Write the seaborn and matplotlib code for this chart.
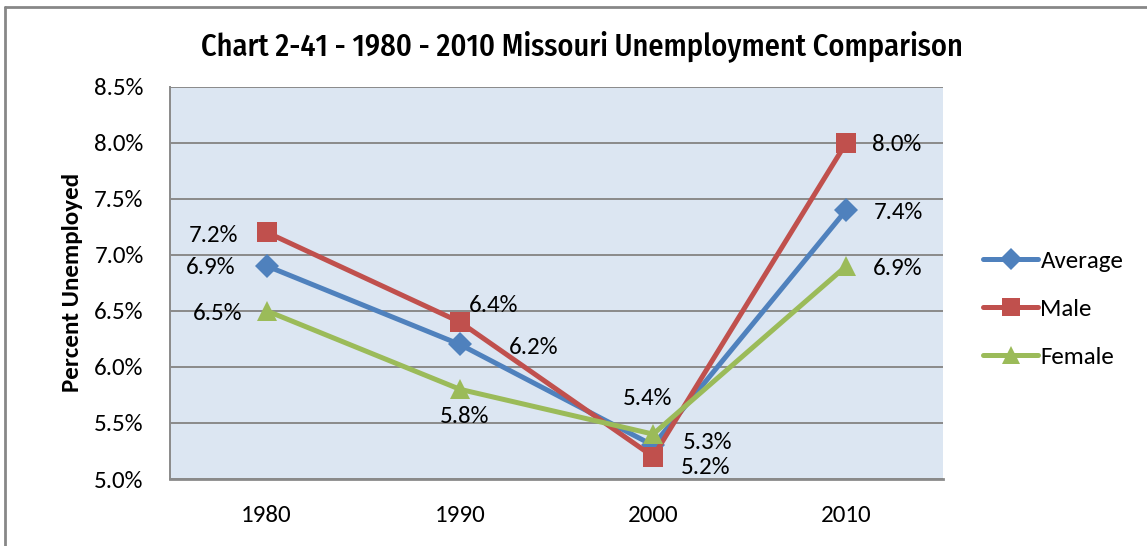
import matplotlib
matplotlib.use("Agg")
import matplotlib.pyplot as plt
import seaborn as sns
import pandas as pd
from matplotlib.lines import Line2D

years = ["1980", "1990", "2000", "2010"]
average = [6.9, 6.2, 5.3, 7.4]
male = [7.2, 6.4, 5.2, 8.0]
female = [6.5, 5.8, 5.4, 6.9]
series_names = ["Average", "Male", "Female"]
y_ticks = [5.0, 5.5, 6.0, 6.5, 7.0, 7.5, 8.0, 8.5]

title = "Chart 2-41 - 1980 - 2010 Missouri Unemployment Comparison"
ylabel = "Percent Unemployed"

colors = {"Average": "#4F81BD", "Male": "#C0504D", "Female": "#9BBB59"}
markers = {"Average": "D", "Male": "s", "Female": "^"}
msizes = {"Average": 12, "Male": 14, "Female": 14}

rows = []
for name, vals in zip(series_names, [average, male, female]):
    for i, (yr, v) in enumerate(zip(years, vals)):
        rows.append({"idx": i, "year": yr, "value": v, "series": name})
df = pd.DataFrame(rows)

sns.set_style("white")
plt.rcParams["font.family"] = ["Carlito", "DejaVu Sans"]
for k in ["text.color", "axes.labelcolor", "xtick.color", "ytick.color"]:
    plt.rcParams[k] = "black"

FS = 18

fig = plt.figure(figsize=(11.47, 5.46), dpi=100)
ax = fig.add_axes([170 / 1147, 1 - 479 / 546, (943 - 170) / 1147, (479 - 86.5) / 546])
ax.set_facecolor("#DCE6F2")

sns.lineplot(data=df, x="idx", y="value", hue="series", style="series",
             hue_order=series_names, style_order=series_names,
             palette=colors, markers=markers, dashes=False, linewidth=3.6,
             markersize=13, markeredgewidth=0, ax=ax, legend=False, sort=False)
for line, name in zip(ax.get_lines(), series_names):
    line.set_markersize(msizes[name])

ax.set_xlim(-0.5, 3.5)
ax.set_ylim(5.0, 8.5)
ax.set_xticks(range(len(years)))
ax.set_xticklabels(years)
ax.set_yticks(y_ticks)
ax.set_yticklabels([f"{t:.1f}%" for t in y_ticks])
ax.tick_params(axis="both", length=0, labelsize=FS, colors="black")
ax.tick_params(axis="y", pad=19)
ax.tick_params(axis="x", pad=19)
ax.grid(axis="y", color="#8A8A8A", linewidth=1.4)
ax.set_axisbelow(True)
for s in ["top", "right"]:
    ax.spines[s].set_visible(False)
ax.spines["left"].set_color("#8A8A8A")
ax.spines["left"].set_linewidth(1.4)
ax.spines["bottom"].set_color("#8A8A8A")
ax.spines["bottom"].set_linewidth(2.0)
ax.set_xlabel("")
ax.set_ylabel(ylabel, fontsize=FS, fontweight="bold", labelpad=8)

# data labels: offsets in pixels
offsets = {
    "Average": [(-56, 0), (74, -1), (55, 5), (52, -1)],
    "Male": [(-53, -1), (34, 18), (52, -9), (50, 0)],
    "Female": [(-49, -1), (5, -25), (-6, 38), (51, -1)],
}
for name, vals in zip(series_names, [average, male, female]):
    for i, v in enumerate(vals):
        dx, dy = offsets[name][i]
        ax.annotate(f"{v:.1f}%", (i, v), xytext=(dx, dy), textcoords="offset pixels",
                    ha="center", va="center_baseline", fontsize=FS, color="black")

handles = [Line2D([0], [0], color=colors[n], marker=markers[n], linewidth=3.6,
                  markersize=msizes[n] - 1, markeredgewidth=0)
           for n in series_names]
fig.legend(handles, series_names, loc="center left", bbox_to_anchor=(983 / 1147, 1 - 309 / 546),
           frameon=False, fontsize=FS, handlelength=2.2, handletextpad=0.1, labelspacing=1.05,
           borderaxespad=0, borderpad=0)

t = fig.text(581.5 / 1147, 1 - 55 / 546, title, ha="center", va="baseline", fontsize=21,
             family=["Fira Sans Condensed", "Archivo Narrow", "DejaVu Sans"], fontweight=500)
fig.canvas.draw()
w = t.get_window_extent(fig.canvas.get_renderer()).width
t.set_fontsize(21 * 763 / w)

# outer frame
fig.add_artist(Line2D([5 / 1147, 5 / 1147], [0, 1 - 7 / 546], transform=fig.transFigure,
                      color="#878787", linewidth=2))
fig.add_artist(Line2D([5 / 1147, 1], [1 - 7 / 546, 1 - 7 / 546], transform=fig.transFigure,
                      color="#878787", linewidth=2))

fig.savefig("out.png", dpi=100)
